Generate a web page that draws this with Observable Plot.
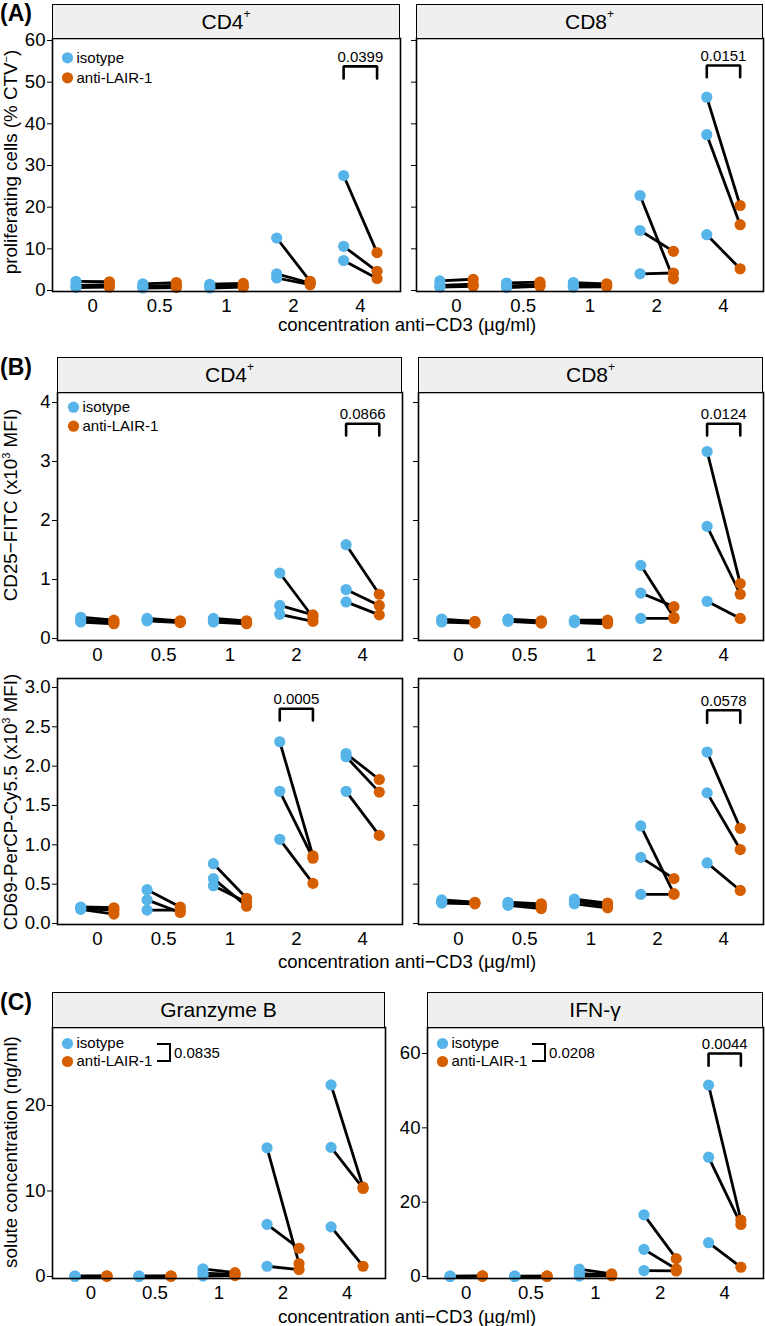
<!DOCTYPE html>
<html>
<head>
<meta charset="utf-8">
<script src="https://cdn.jsdelivr.net/npm/d3@7"></script>
<script src="https://cdn.jsdelivr.net/npm/@observablehq/plot@0.6"></script>
<style>
html,body{margin:0;padding:0;background:#fff;}
#root{position:relative;width:765px;height:1326px;overflow:hidden;font-family:"Liberation Sans",Arial,Helvetica,sans-serif;color:#000;}
.strip{position:absolute;box-sizing:border-box;background:#efefef;border:1.6px solid #000;display:flex;align-items:center;justify-content:center;font-size:21px;}
.strip sup{font-size:12px;vertical-align:0;position:relative;top:-8px;}
.ytitle{position:absolute;white-space:nowrap;font-size:18.8px;transform:translate(-50%,-50%) rotate(-90deg);}
.ytitle sup{font-size:11px;vertical-align:0;position:relative;top:-7px;}
.xtitle{position:absolute;white-space:nowrap;font-size:18.6px;transform:translate(-50%,-50%);}
.tag{position:absolute;left:0;font-weight:bold;font-size:23px;line-height:26px;}
.lbr{position:absolute;box-sizing:border-box;border:2.6px solid #000;border-left:none;}
.lbt{position:absolute;font-size:15px;transform:translate(0,-50%);white-space:nowrap;}
</style>
</head>
<body>
<div id="root"></div>
<script>
// ---------- data ----------
const concentrations = ["0", "0.5", "1", "2", "4"];
const groups = ["isotype", "anti-LAIR-1"];
const groupColors = ["#56B4E9", "#D55E00"];

// (A) proliferating cells (% CTV-), 3 donors per concentration
const prolifCD4Iso  = [[2.2, 1.2, 0.7], [1.6, 1.0, 0.6], [1.5, 1.0, 0.6], [12.6, 4.0, 3.0], [27.6, 10.6, 7.2]];
const prolifCD4Anti = [[2.1, 1.4, 0.8], [1.9, 1.2, 0.7], [1.7, 1.1, 0.8], [2.2, 1.8, 1.4], [9.1, 4.6, 2.9]];
const prolifCD8Iso  = [[2.3, 1.2, 0.8], [1.8, 1.1, 0.7], [1.9, 1.3, 0.8], [22.8, 14.4, 4.0], [46.4, 37.4, 13.4]];
const prolifCD8Anti = [[2.7, 1.5, 1.0], [2.0, 1.4, 1.0], [1.6, 1.2, 0.9], [2.8, 9.4, 4.2], [20.4, 15.8, 5.2]];

// (B) CD25-FITC (x10^3 MFI)
const cd25CD4Iso  = [[0.36, 0.31, 0.28], [0.34, 0.32, 0.30], [0.34, 0.31, 0.28], [1.11, 0.56, 0.41], [1.59, 0.83, 0.62]];
const cd25CD4Anti = [[0.31, 0.28, 0.25], [0.30, 0.29, 0.27], [0.30, 0.27, 0.25], [0.36, 0.40, 0.29], [0.75, 0.56, 0.40]];
const cd25CD8Iso  = [[0.33, 0.30, 0.28], [0.33, 0.31, 0.29], [0.31, 0.29, 0.27], [1.24, 0.77, 0.34], [3.17, 1.90, 0.63]];
const cd25CD8Anti = [[0.29, 0.28, 0.26], [0.30, 0.28, 0.26], [0.31, 0.28, 0.25], [0.36, 0.54, 0.34], [0.93, 0.75, 0.34]];

// (B) CD69-PerCP-Cy5.5 (x10^3 MFI)
const cd69CD4Iso  = [[0.21, 0.19, 0.18], [0.43, 0.30, 0.17], [0.76, 0.57, 0.48], [2.31, 1.68, 1.07], [2.16, 2.12, 1.68]];
const cd69CD4Anti = [[0.20, 0.17, 0.12], [0.21, 0.14, 0.17], [0.32, 0.22, 0.27], [0.86, 0.83, 0.51], [1.83, 1.67, 1.12]];
const cd69CD8Iso  = [[0.30, 0.28, 0.26], [0.27, 0.25, 0.23], [0.31, 0.28, 0.25], [1.24, 0.84, 0.37], [2.18, 1.66, 0.77]];
const cd69CD8Anti = [[0.27, 0.26, 0.25], [0.25, 0.22, 0.19], [0.26, 0.23, 0.20], [0.38, 0.57, 0.37], [1.21, 0.94, 0.42]];

// (C) solute concentration (ng/ml)
const grzbIso  = [[0.05, 0.03, 0.01], [0.05, 0.03, 0.01], [0.9, 0.4, 0.05], [15.05, 6.1, 1.2], [22.4, 15.1, 5.8]];
const grzbAnti = [[0.08, 0.05, 0.02], [0.06, 0.04, 0.02], [0.45, 0.25, 0.1], [1.5, 3.3, 0.8], [10.45, 10.3, 1.2]];
const ifngIso  = [[0.1, 0.05, 0.02], [0.1, 0.05, 0.02], [2.0, 0.8, 0.1], [16.6, 7.3, 1.6], [51.5, 32.1, 9.1]];
const ifngAnti = [[0.15, 0.1, 0.05], [0.1, 0.08, 0.05], [0.7, 0.4, 0.2], [4.8, 2.0, 1.5], [15.2, 14.0, 2.5]];

// significance annotations: concentration index, bracket top, leg end, label height, p value
const sigProlifCD4 = {at: 4, top: 53.8, leg: 50.9, label: 56.0, p: "0.0399"};
const sigProlifCD8 = {at: 4, top: 54.0, leg: 51.2, label: 56.3, p: "0.0151"};
const sigCD25CD4 = {at: 4, top: 3.64, leg: 3.44, label: 3.81, p: "0.0866"};
const sigCD25CD8 = {at: 4, top: 3.64, leg: 3.44, label: 3.81, p: "0.0124"};
const sigCD69CD4 = {at: 3, top: 2.73, leg: 2.58, label: 2.85, p: "0.0005"};
const sigCD69CD8 = {at: 4, top: 2.71, leg: 2.55, label: 2.83, p: "0.0578"};
const sigIfng = {at: 4, top: 60.0, leg: 56.7, label: 62.5, p: "0.0044"};
const overallGrzb = "0.0835";
const overallIfng = "0.0208";

// ---------- drawing ----------
const root = document.getElementById("root");
const dodge = 0.25;
const ML = 45, MT = 10, MR = 2, MB = 30;

function add(html, cls, style) {
  const d = document.createElement("div");
  d.className = cls;
  Object.assign(d.style, style);
  d.innerHTML = html;
  root.appendChild(d);
  return d;
}

function panel(o) {
  const rows = [];
  concentrations.forEach((c, i) => o.iso[i].forEach((v, j) => rows.push({i, donor: j, iso: v, anti: o.anti[i][j]})));
  const pts = rows.flatMap(r => [
    {x: r.i - dodge, y: r.iso, g: groups[0]},
    {x: r.i + dodge, y: r.anti, g: groups[1]}
  ]);
  const fw = o.right - o.left, fh = o.bottom - o.top;
  const marks = [
    Plot.link(rows, {x1: d => d.i - dodge, y1: "iso", x2: d => d.i + dodge, y2: "anti", stroke: "black", strokeWidth: 2.8}),
    Plot.dot(pts, {x: "x", y: "y", fill: "g", r: 5.6, stroke: "none"}),
    Plot.frame({stroke: "black", strokeWidth: 1.6})
  ];
  if (o.legend) {
    groups.forEach((g, k) => {
      marks.push(Plot.dot([g], {frameAnchor: "top-left", dx: o.legend.dx, dy: o.legend.dy[k], r: 5.6, fill: d => d}));
      marks.push(Plot.text([g], {frameAnchor: "top-left", dx: o.legend.dx + 9, dy: o.legend.dy[k], text: d => d, textAnchor: "start", lineAnchor: "middle", fontSize: 15}));
    });
  }
  (o.sig || []).forEach(s => {
    const br = [
      {x: s.at - dodge, y: s.leg}, {x: s.at - dodge, y: s.top},
      {x: s.at + dodge, y: s.top}, {x: s.at + dodge, y: s.leg}
    ];
    marks.push(Plot.line(br, {x: "x", y: "y", stroke: "black", strokeWidth: 2.6, strokeLinejoin: "miter"}));
    marks.push(Plot.text([s], {x: d => d.at, y: d => d.label, text: d => d.p, fontSize: 15, lineAnchor: "middle"}));
  });
  const chart = Plot.plot({
    width: ML + fw + MR,
    height: MT + fh + MB,
    marginLeft: ML, marginTop: MT, marginRight: MR, marginBottom: MB,
    style: {background: "transparent", fontFamily: "Liberation Sans, Arial, sans-serif", fontSize: "18.6px", color: "black", overflow: "visible"},
    x: {domain: [-0.6, 4.6], ticks: [0, 1, 2, 3, 4], tickFormat: i => concentrations[i], tickSize: 0, tickPadding: 7, label: null},
    y: {domain: o.yDomain, ticks: o.yTicks, tickFormat: o.showY ? o.yFmt : () => "", tickSize: 5, tickPadding: 2, label: null},
    color: {domain: groups, range: groupColors},
    marks
  });
  const wrap = document.createElement("div");
  wrap.style.position = "absolute";
  wrap.style.left = (o.left - ML) + "px";
  wrap.style.top = (o.top - MT) + "px";
  wrap.style.width = (ML + fw + MR) + "px";
  wrap.appendChild(chart);
  root.appendChild(wrap);
  if (o.strip) {
    add(o.strip, "strip", {left: o.left + "px", top: o.stripTop + "px", width: fw + "px", height: (o.top - o.stripTop + 1) + "px"});
  }
}

const fmt0 = d => String(d);
const fmt1 = d => d.toFixed(1);

// (A)
panel({iso: prolifCD4Iso, anti: prolifCD4Anti, left: 52, right: 400, top: 38, bottom: 291,
  yDomain: [-0.24, 60.48], yTicks: [0, 10, 20, 30, 40, 50, 60], yFmt: fmt0, showY: true,
  legend: {dx: 15, dy: [19.3, 39.3]}, sig: [sigProlifCD4], strip: "CD4<sup>+</sup>", stripTop: 4});
panel({iso: prolifCD8Iso, anti: prolifCD8Anti, left: 416, right: 763, top: 38, bottom: 291,
  yDomain: [-0.24, 60.48], yTicks: [0, 10, 20, 30, 40, 50, 60], yFmt: fmt0, showY: false,
  sig: [sigProlifCD8], strip: "CD8<sup>+</sup>", stripTop: 4});

// (B) CD25
panel({iso: cd25CD4Iso, anti: cd25CD4Anti, left: 57, right: 402, top: 392, bottom: 640,
  yDomain: [-0.034, 4.17], yTicks: [0, 1, 2, 3, 4], yFmt: fmt0, showY: true,
  legend: {dx: 16, dy: [14.7, 33.7]}, sig: [sigCD25CD4], strip: "CD4<sup>+</sup>", stripTop: 357});
panel({iso: cd25CD8Iso, anti: cd25CD8Anti, left: 418, right: 763, top: 392, bottom: 640,
  yDomain: [-0.034, 4.17], yTicks: [0, 1, 2, 3, 4], yFmt: fmt0, showY: false,
  sig: [sigCD25CD8], strip: "CD8<sup>+</sup>", stripTop: 357});

// (B) CD69
panel({iso: cd69CD4Iso, anti: cd69CD4Anti, left: 57, right: 402, top: 678, bottom: 924,
  yDomain: [-0.0127, 3.114], yTicks: [0, 0.5, 1, 1.5, 2, 2.5, 3], yFmt: fmt1, showY: true,
  sig: [sigCD69CD4]});
panel({iso: cd69CD8Iso, anti: cd69CD8Anti, left: 418, right: 763, top: 678, bottom: 924,
  yDomain: [-0.0127, 3.114], yTicks: [0, 0.5, 1, 1.5, 2, 2.5, 3], yFmt: fmt1, showY: false,
  sig: [sigCD69CD8]});

// (C)
panel({iso: grzbIso, anti: grzbAnti, left: 52, right: 385, top: 1027, bottom: 1278,
  yDomain: [-0.234, 29.12], yTicks: [0, 10, 20], yFmt: fmt0, showY: true,
  legend: {dx: 15, dy: [16, 34]}, strip: "Granzyme B", stripTop: 992});
panel({iso: ifngIso, anti: ifngAnti, left: 427, right: 763, top: 1027, bottom: 1278,
  yDomain: [-0.538, 67.0], yTicks: [0, 20, 40, 60], yFmt: fmt0, showY: true,
  legend: {dx: 15, dy: [16, 34]}, sig: [sigIfng], strip: "IFN-γ", stripTop: 992});

// legend-side overall brackets (C)
add("", "lbr", {left: (52 + 105) + "px", top: (1027 + 16) + "px", width: "14px", height: "19px"});
add(overallGrzb, "lbt", {left: (52 + 122) + "px", top: (1027 + 25) + "px"});
add("", "lbr", {left: (427 + 105) + "px", top: (1027 + 16) + "px", width: "14px", height: "19px"});
add(overallIfng, "lbt", {left: (427 + 122) + "px", top: (1027 + 25) + "px"});

// titles and tags
add("(A)", "tag", {top: "0px"});
add("(B)", "tag", {top: "354px"});
add("(C)", "tag", {top: "989px"});
const xTitle = "concentration anti−CD3 (µg/ml)";
add(xTitle, "xtitle", {left: "407px", top: "325px"});
add(xTitle, "xtitle", {left: "407px", top: "962px"});
add(xTitle, "xtitle", {left: "407px", top: "1317px"});
add("proliferating cells (% CTV<sup>−</sup>)", "ytitle", {left: "11px", top: "162px"});
add("CD25−FITC (x10<sup>3</sup> MFI)", "ytitle", {left: "11px", top: "505px"});
add("CD69-PerCP-Cy5.5 (x10<sup>3</sup> MFI)", "ytitle", {left: "11px", top: "802px"});
add("solute concentration (ng/ml)", "ytitle", {left: "11px", top: "1152px"});
</script>
</body>
</html>
